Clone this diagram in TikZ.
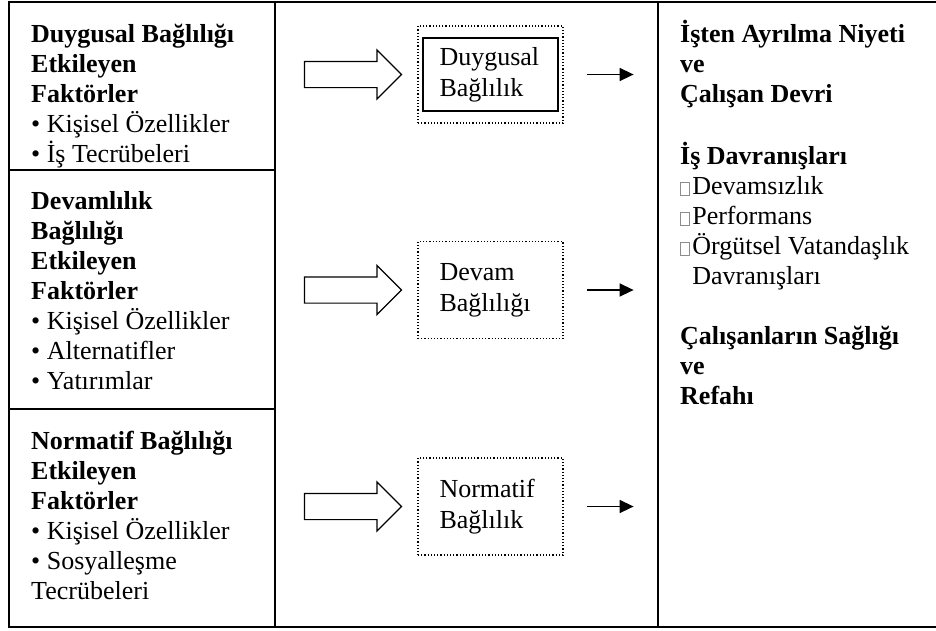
\documentclass[tikz,border=0pt]{standalone}
\usepackage{fontspec}
\setmainfont{Liberation Serif}
\usetikzlibrary{shapes.arrows,arrows.meta,positioning}

% grey square for the missing bullet glyph
\newcommand\sqmark{{\color{gray!90}\setlength\fboxrule{0.8pt}\setlength\fboxsep{0pt}\fbox{\rule{0pt}{12pt}\hspace{8pt}}}\hspace{2.5pt}}
\newcommand\topstrut{\rule{0pt}{24pt}}

\begin{document}
\begin{tikzpicture}[x=1pt,y=-1pt,
  txt/.style={anchor=north west,inner sep=0pt,align=left,font=\fontsize{26}{30}\selectfont},
  dotbox/.style={draw,dotted,line width=1.2pt,minimum width=145pt,minimum height=97pt,
    text width=102pt,align=left,font=\fontsize{26}{31}\selectfont},
  solidbox/.style={draw,line width=1.6pt,minimum width=135pt,minimum height=73pt},
  blockarr/.style={single arrow,draw,line width=1.2pt,inner xsep=0pt,inner ysep=12.5pt,
    minimum height=97pt,single arrow head extend=11.5pt,single arrow tip angle=90},
  smallarr/.style={line width=1.5pt,-{Triangle[length=14pt,width=13pt]}}]
\useasboundingbox (0,0) rectangle (936,630);

% frame and columns
\draw[line width=2.4pt] (936,2) -- (9,2) -- (9,627) -- (936,627);
\draw[line width=1.8pt] (275,2) -- (275,627);
\draw[line width=1.8pt] (658,2) -- (658,627);
\draw[line width=1.8pt] (9,170) -- (275,170);
\draw[line width=1.8pt] (9,409) -- (275,409);

% left: factors
\node[txt] (duyf) at (31,18.5) {\topstrut\textbf{Duygusal Bağlılığı}\\ \textbf{Etkileyen}\\ \textbf{Faktörler}\\
  • Kişisel Özellikler\\ • İş Tecrübeleri};
\node[txt] (devf) at (31,185.5) {\topstrut\textbf{Devamlılık}\\ \textbf{Bağlılığı}\\ \textbf{Etkileyen}\\
  \textbf{Faktörler}\\ • Kişisel Özellikler\\ • Alternatifler\\ • Yatırımlar};
\node[txt] (norf) at (31,425.5) {\topstrut\textbf{Normatif Bağlılığı}\\ \textbf{Etkileyen}\\ \textbf{Faktörler}\\
  • Kişisel Özellikler\\ • Sosyalleşme\\ Tecrübeleri};

% middle: commitment types
\node[blockarr] (ar1) at (346.5,74.5) {};
\node[blockarr] (ar2) at (346.5,290) {};
\node[blockarr] (ar3) at (346.5,506.5) {};
\node[dotbox] (duy) at (490.5,74.5) {Duygusal\\Bağlılık};
\node[solidbox] (duyin) at (duy) {};
\node[dotbox] (dev) at (490.5,290) {Devam\\Bağlılığı};
\node[dotbox] (nor) at (490.5,506.5) {Normatif\\Bağlılık};
\draw[smallarr] ([xshift=23pt]duy.east) -- ++(47,0);
\draw[smallarr] ([xshift=23pt]dev.east) -- ++(47,0);
\draw[smallarr] ([xshift=23pt]nor.east) -- ++(47,0);

% right: outcomes
\node[txt] (sonuc) at (680,18.5) {\topstrut\textbf{İşten Ayrılma Niyeti}\\ \textbf{ve}\\ \textbf{Çalışan Devri}\\ \strut\\
  \textbf{İş Davranışları}\\ \sqmark Devamsızlık\\ \sqmark Performans\\ \sqmark Örgütsel Vatandaşlık\\
  \phantom{\sqmark}Davranışları\\ \strut\\
  \textbf{Çalışanların Sağlığı}\\ \textbf{ve}\\ \textbf{Refahı}};
\end{tikzpicture}
\end{document}
